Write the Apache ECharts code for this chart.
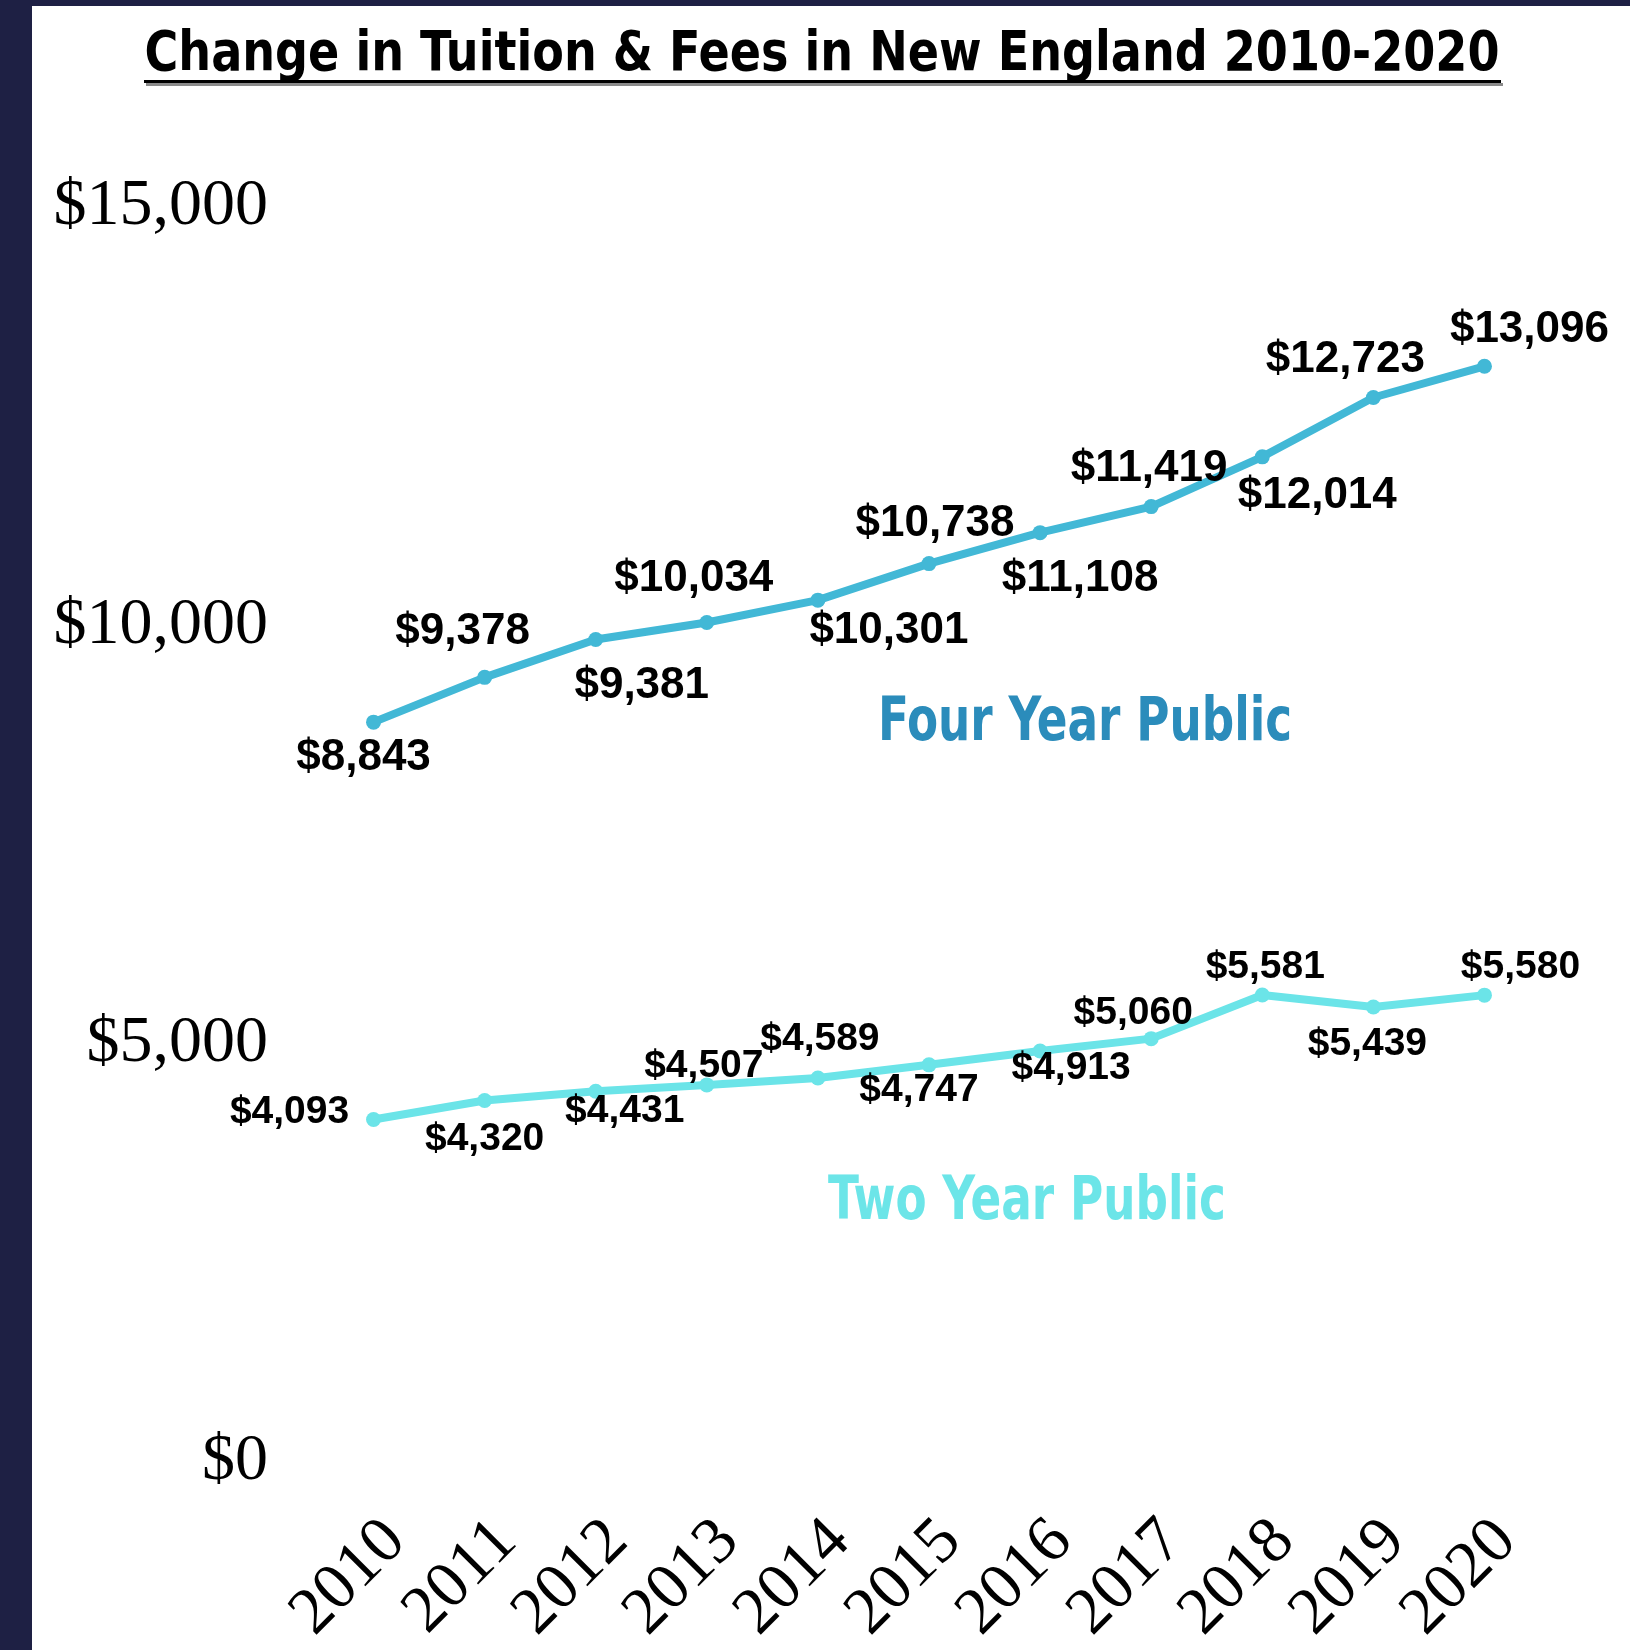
<!DOCTYPE html>
<html>
<head>
<meta charset="utf-8">
<script src="https://cdn.jsdelivr.net/npm/echarts@6/dist/echarts.min.js"></script>
<style>
  html, body { margin: 0; padding: 0; background: #ffffff; }
  #chart { width: 1630px; height: 1650px; }
</style>
</head>
<body>
<div id="chart"></div>
<script>
// ---- data ----
const years = ['2010','2011','2012','2013','2014','2015','2016','2017','2018','2019','2020'];
const fourYear = [8843, 9378, 9831, 10034, 10301, 10738, 11108, 11419, 12014, 12723, 13096];
const fourYearLabels = ['$8,843','$9,378','$9,381','$10,034','$10,301','$10,738','$11,108','$11,419','$12,014','$12,723','$13,096'];
const twoYear = [4093, 4320, 4431, 4507, 4589, 4747, 4913, 5060, 5581, 5439, 5580];
const yTicks = { min: 0, max: 15000, interval: 5000 };
const titleText = 'Change in Tuition & Fees in New England 2010-2020';
const fourName = 'Four Year Public';
const twoName = 'Two Year Public';

// ---- label placement (style) ----
const fourLabelOffset = [[-10,36],[-22,-46],[46,46],[-13,-44],[71,31],[6,-40],[40,46],[-2,-38],[55,39],[-28,-38],[45,-36]];
const twoLabelOffset = [[-84,-7],[0,39],[29,20],[-3,-19],[2,-39],[-10,25],[31,17],[-18,-25],[3,-28],[-6,37],[36,-28]];

const fmt = v => '$' + Number(v).toLocaleString('en-US');

const chart = echarts.init(document.getElementById('chart'), null, { renderer: 'canvas' });

const fourColor = '#42B8D6';
const twoColor = '#6BE4E8';

chart.setOption({
  backgroundColor: '#ffffff',
  animation: false,
  grid: [
    { left: 318, right: 90, top: 207, bottom: 188 },
    { left: 340, right: 68, top: 207, bottom: 188 }
  ],
  xAxis: [
    { gridIndex: 0, type: 'category', data: years, boundaryGap: true,
      axisLine: { show: false }, axisTick: { show: false }, axisLabel: { show: false }, splitLine: { show: false } },
    { gridIndex: 1, type: 'category', data: years, boundaryGap: true,
      axisLine: { show: false }, axisTick: { show: false }, splitLine: { show: false },
      axisLabel: { rotate: 45, margin: 74, color: '#000', fontFamily: 'Liberation Serif', fontSize: 66, interval: 0 } }
  ],
  yAxis: [
    { gridIndex: 0, type: 'value', min: yTicks.min, max: yTicks.max, interval: yTicks.interval,
      axisLine: { show: false }, axisTick: { show: false }, splitLine: { show: false },
      axisLabel: { margin: 50, color: '#000', fontFamily: 'Liberation Serif', fontSize: 66, padding: [20, 0, 0, 0], formatter: fmt } },
    { gridIndex: 1, type: 'value', min: yTicks.min, max: yTicks.max, show: false }
  ],
  series: [
    {
      name: fourName, type: 'line', xAxisIndex: 0, yAxisIndex: 0,
      data: fourYear.map((v, i) => ({ value: v, label: { offset: fourLabelOffset[i] } })),
      symbol: 'circle', symbolSize: 15,
      lineStyle: { color: fourColor, width: 8 },
      itemStyle: { color: fourColor },
      label: { show: true, position: 'inside', align: 'center', verticalAlign: 'middle',
        color: '#000', fontFamily: 'Liberation Sans', fontWeight: 'bold', fontSize: 44,
        formatter: p => fourYearLabels[p.dataIndex] },
      z: 3
    },
    {
      name: twoName, type: 'line', xAxisIndex: 0, yAxisIndex: 0,
      data: twoYear.map((v, i) => ({ value: v, label: { offset: twoLabelOffset[i] } })),
      symbol: 'circle', symbolSize: 15,
      lineStyle: { color: twoColor, width: 8 },
      itemStyle: { color: twoColor },
      label: { show: true, position: 'inside', align: 'center', verticalAlign: 'middle',
        color: '#000', fontFamily: 'Liberation Sans', fontWeight: 'bold', fontSize: 39,
        formatter: p => fmt(p.value) },
      z: 3
    }
  ],
  graphic: [
    { type: 'rect', left: 0, top: 0, shape: { width: 32, height: 1650 }, style: { fill: '#1E2044' }, silent: true },
    { type: 'rect', left: 0, top: 0, shape: { width: 1630, height: 6 }, style: { fill: '#1E2044' }, silent: true },
    { type: 'text', x: 822, y: 55, scaleX: 0.915, style: { text: titleText, fill: '#000', font: 'bold 56px "DejaVu Sans Condensed"', textAlign: 'center', textVerticalAlign: 'middle' } },
    { type: 'rect', shape: { x: 146, y: 83, width: 1357, height: 3 }, style: { fill: '#8a8a8a' }, silent: true },
    { type: 'rect', shape: { x: 144, y: 80, width: 1357, height: 3 }, style: { fill: '#000' }, silent: true },
    { type: 'text', x: 1085, y: 724, scaleX: 0.84, style: { text: fourName, fill: '#2B8CBB', font: 'bold 60px "DejaVu Sans Condensed"', textAlign: 'center', textVerticalAlign: 'middle' } },
    { type: 'text', x: 1027, y: 1203, scaleX: 0.84, style: { text: twoName, fill: '#6CE5E8', font: 'bold 60px "DejaVu Sans Condensed"', textAlign: 'center', textVerticalAlign: 'middle' } }
  ]
});
</script>
</body>
</html>
